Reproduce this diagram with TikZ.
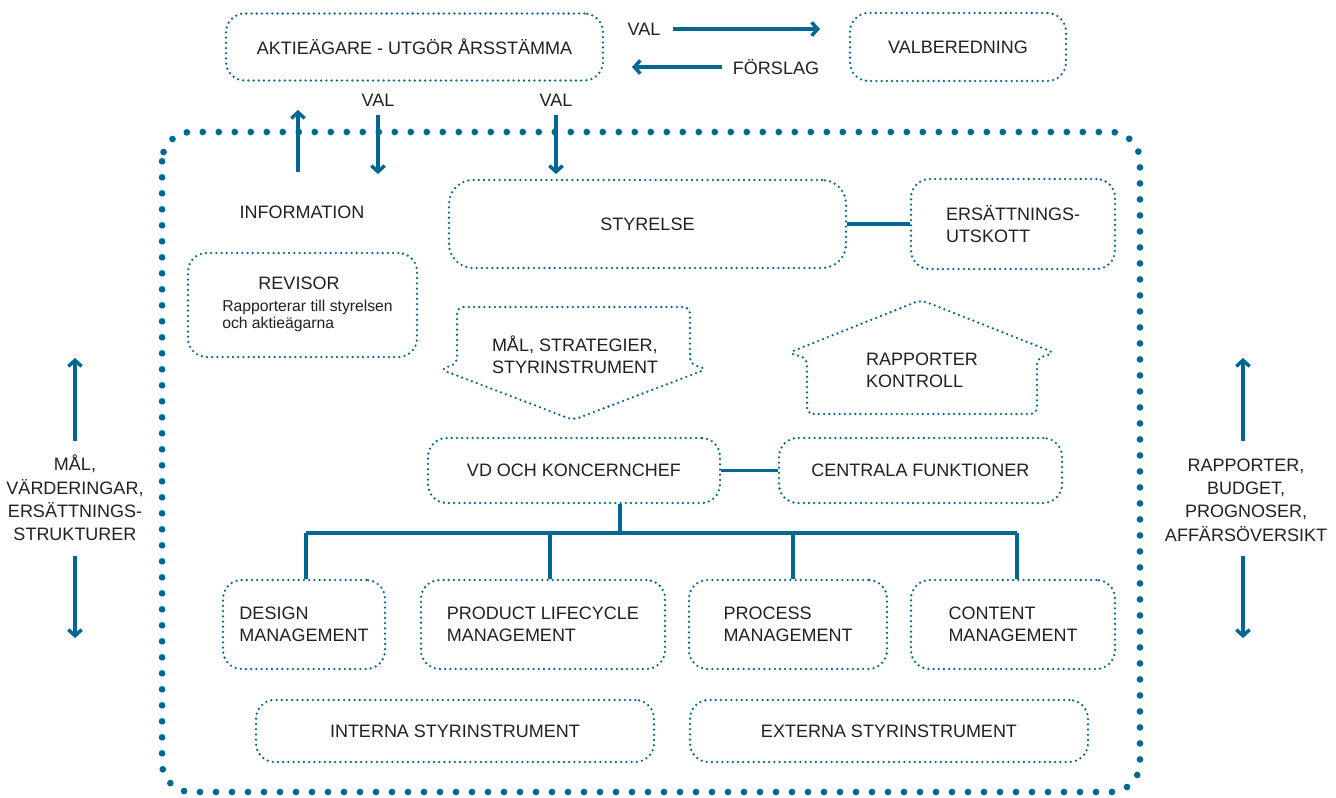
\documentclass[tikz,border=0pt]{standalone}
\usepackage{fontspec}
\setmainfont{Liberation Sans}
\usetikzlibrary{arrows.meta}
\definecolor{tblue}{RGB}{0,104,146}
\definecolor{txt}{RGB}{35,31,32}
\begin{document}
\begin{tikzpicture}[x=0.75pt,y=-0.75pt,
  dotline/.style={draw=tblue, line width=1.9pt, dash pattern=on 0pt off 3.9pt, line cap=round},
  box/.style={dotline, rounded corners=14pt, inner sep=0pt, align=center, text=txt, font=\fontsize{13.5}{16.5}\selectfont},
  lbl/.style={text=txt, font=\fontsize{13.5}{16.5}\selectfont, inner sep=0pt},
  side/.style={text=txt, font=\fontsize{13.5}{17.5}\selectfont, inner sep=0pt, align=center},
  small/.style={text=txt, font=\fontsize{11.8}{12.5}\selectfont, inner sep=0pt, align=left},
  outer/.style={draw=tblue, line width=5pt, dash pattern=on 0pt off 12pt, line cap=round, rounded corners=22pt},
  conn/.style={draw=tblue, line width=2.3pt},
  arr/.style={draw=tblue, line width=2.6pt, -{Straight Barb[length=4.5pt,width=10pt]}}
]
\useasboundingbox (0,0) rectangle (1336,797);

% outer frame
\draw[outer] (162,132) rectangle (1140,792);

% top row
\node[box, minimum width=282.75pt, minimum height=50.25pt] (aktie) at (414.5,47) {AKTIEÄGARE - UTGÖR ÅRSSTÄMMA};
\node[box, minimum width=162pt, minimum height=51pt] (valb) at (958,47) {VALBEREDNING};

\node[lbl] (val1) at (644,29) {VAL};
\node[lbl] (forslag) at (776,67) {FÖRSLAG};
\coordinate (v1s) at (673,29);
\coordinate (v1e) at (820,29);
\coordinate (f1s) at (722,67);
\coordinate (f1e) at (632,67);
\draw[arr] (v1s) -- (v1e);
\draw[arr] (f1s) -- (f1e);

% vertical arrows below top box
\node[lbl] (val2) at (378,100) {VAL};
\node[lbl] (val3) at (556,100) {VAL};
\coordinate (i1s) at (298,172);
\coordinate (i1e) at (298,110);
\coordinate (v2s) at (378,115);
\coordinate (v2e) at (378,174);
\coordinate (v3s) at (556,115);
\coordinate (v3e) at (556,174);
\draw[arr] (i1s) -- (i1e);
\draw[arr] (v2s) -- (v2e);
\draw[arr] (v3s) -- (v3e);

\node[lbl] (info) at (302,212) {INFORMATION};

% board
\node[box, rounded corners=18pt, minimum width=297.75pt, minimum height=66pt] (styr) at (647.5,224) {STYRELSE};
\node[box, align=left, minimum width=153pt, minimum height=67.5pt] (ersk) at (1013,224) {ERSÄTTNINGS-\\UTSKOTT};
\draw[conn] (styr.east) -- (ersk.west);

% auditor
\node[box, minimum width=171.75pt, minimum height=78pt] (rev) at (302.5,305) {};
\node[lbl] (revt) at (299,283) {REVISOR};
\node[small, anchor=north west] (revs) at (222,300) {Rapporterar till styrelsen\\och aktieägarna};

% pentagon arrows
\draw[dotline, rounded corners=5pt] (457,307) -- (690,307) -- (690,364) -- (707,369) -- (573,420) -- (440,369) -- (457,364) -- cycle;
\node[lbl, align=left] (mal) at (575,355) {MÅL, STRATEGIER,\\STYRINSTRUMENT};
\draw[dotline, rounded corners=5pt] (807,414) -- (1037,414) -- (1037,358) -- (1055,353) -- (921,300) -- (788,353) -- (807,358) -- cycle;
\node[lbl, align=left] (rapk) at (922,370) {RAPPORTER\\KONTROLL};

% CEO row
\node[box, minimum width=219pt, minimum height=48.75pt] (vd) at (574,470.5) {VD OCH KONCERNCHEF};
\node[box, minimum width=212.25pt, minimum height=48.75pt] (cent) at (920.5,470.5) {CENTRALA FUNKTIONER};
\draw[conn] (vd.east) -- (cent.west);

% business areas
\node[box, align=left, minimum width=121.5pt, minimum height=66.75pt] (des) at (304,624.5) {DESIGN\\MANAGEMENT};
\node[box, align=left, minimum width=183pt, minimum height=66.75pt] (plm) at (543,624.5) {PRODUCT LIFECYCLE\\MANAGEMENT};
\node[box, align=left, minimum width=148.5pt, minimum height=66.75pt] (proc) at (788,624.5) {PROCESS\\MANAGEMENT};
\node[box, align=left, minimum width=153pt, minimum height=66.75pt] (cont) at (1013,624.5) {CONTENT\\MANAGEMENT};

\node[box, minimum width=298.5pt, minimum height=46.5pt] (int) at (455,731) {INTERNA STYRINSTRUMENT};
\node[box, minimum width=298.5pt, minimum height=46.5pt] (ext) at (889,731) {EXTERNA STYRINSTRUMENT};

% tree
\coordinate (bus) at (620,533);
\coordinate (b1) at (306,533);
\coordinate (b2) at (550,533);
\coordinate (b3) at (793,533);
\coordinate (b4) at (1017,533);
\draw[conn] (bus |- vd.south) -- (bus);
\draw[conn] (b1) -- (b4);
\draw[conn] (b1) -- (b1 |- des.north);
\draw[conn] (b2) -- (b2 |- plm.north);
\draw[conn] (b3) -- (b3 |- proc.north);
\draw[conn] (b4) -- (b4 |- cont.north);

% side arrows left
\node[side] (lside) at (75,498) {MÅL,\\VÄRDERINGAR,\\ERSÄTTNINGS-\\STRUKTURER};
\coordinate (l1s) at (75,441);
\coordinate (l1e) at (75,358);
\coordinate (l2s) at (75,556);
\coordinate (l2e) at (75,638);
\draw[arr] (l1s) -- (l1e);
\draw[arr] (l2s) -- (l2e);

% side arrows right
\node[side] (rside) at (1246,500) {RAPPORTER,\\BUDGET,\\PROGNOSER,\\AFFÄRSÖVERSIKT};
\coordinate (r1s) at (1243,441);
\coordinate (r1e) at (1243,358);
\coordinate (r2s) at (1243,556);
\coordinate (r2e) at (1243,638);
\draw[arr] (r1s) -- (r1e);
\draw[arr] (r2s) -- (r2e);
\end{tikzpicture}
\end{document}
